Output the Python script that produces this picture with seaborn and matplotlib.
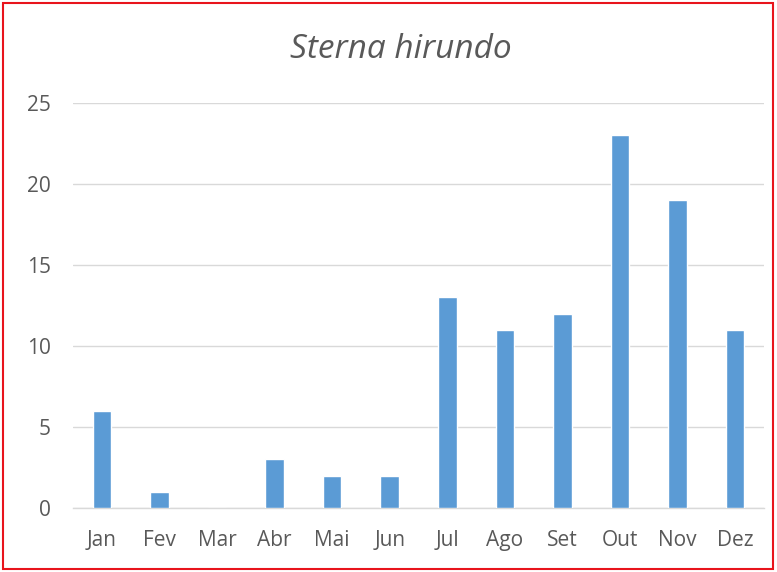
import matplotlib
matplotlib.use("Agg")
import matplotlib.pyplot as plt
import seaborn as sns
import pandas as pd
from matplotlib.patches import Rectangle

months = ["Jan", "Fev", "Mar", "Abr", "Mai", "Jun", "Jul", "Ago", "Set", "Out", "Nov", "Dez"]
counts = [6, 1, 0, 3, 2, 2, 13, 11, 12, 23, 19, 11]
yticks = [0, 5, 10, 15, 20, 25]

df = pd.DataFrame({"month": months, "count": counts})

sns.set_theme(style="white")
plt.rcParams['font.family'] = ['Open Sans', 'DejaVu Sans']

fig = plt.figure(figsize=(7.77, 5.72), dpi=100)
ax = fig.add_axes([73/777, 1-508/572, (764-73)/777, (508-103)/572])

sns.barplot(data=df, x="month", y="count", color="#5B9BD5", width=0.32,
            saturation=1, ax=ax, zorder=3)

ax.set_ylim(0, 25)
ax.set_yticks(yticks)
ax.set_xlim(-0.5, len(months) - 0.5)
ax.yaxis.grid(True, color="#D9D9D9", linewidth=1, zorder=0)
ax.set_axisbelow(True)
for s in ["top", "right", "left"]:
    ax.spines[s].set_visible(False)
ax.spines["bottom"].set_color("#D9D9D9")
ax.spines["bottom"].set_linewidth(1)
ax.set_xlabel("")
ax.set_ylabel("")
ax.tick_params(axis="both", length=0, labelsize=15, colors="#595959")
ax.tick_params(axis="y", pad=16)
ax.tick_params(axis="x", pad=16)

fig.text(401/777, 1-50/572, "Sterna hirundo", ha="center", va="center",
         fontsize=24, style="italic", color="#595959")

fig.patches.append(Rectangle((3/777, 3/572), 770/777, 566/572, transform=fig.transFigure,
                             fill=False, edgecolor="#E8141C", linewidth=1.5))

fig.savefig("out.png", dpi=100)
